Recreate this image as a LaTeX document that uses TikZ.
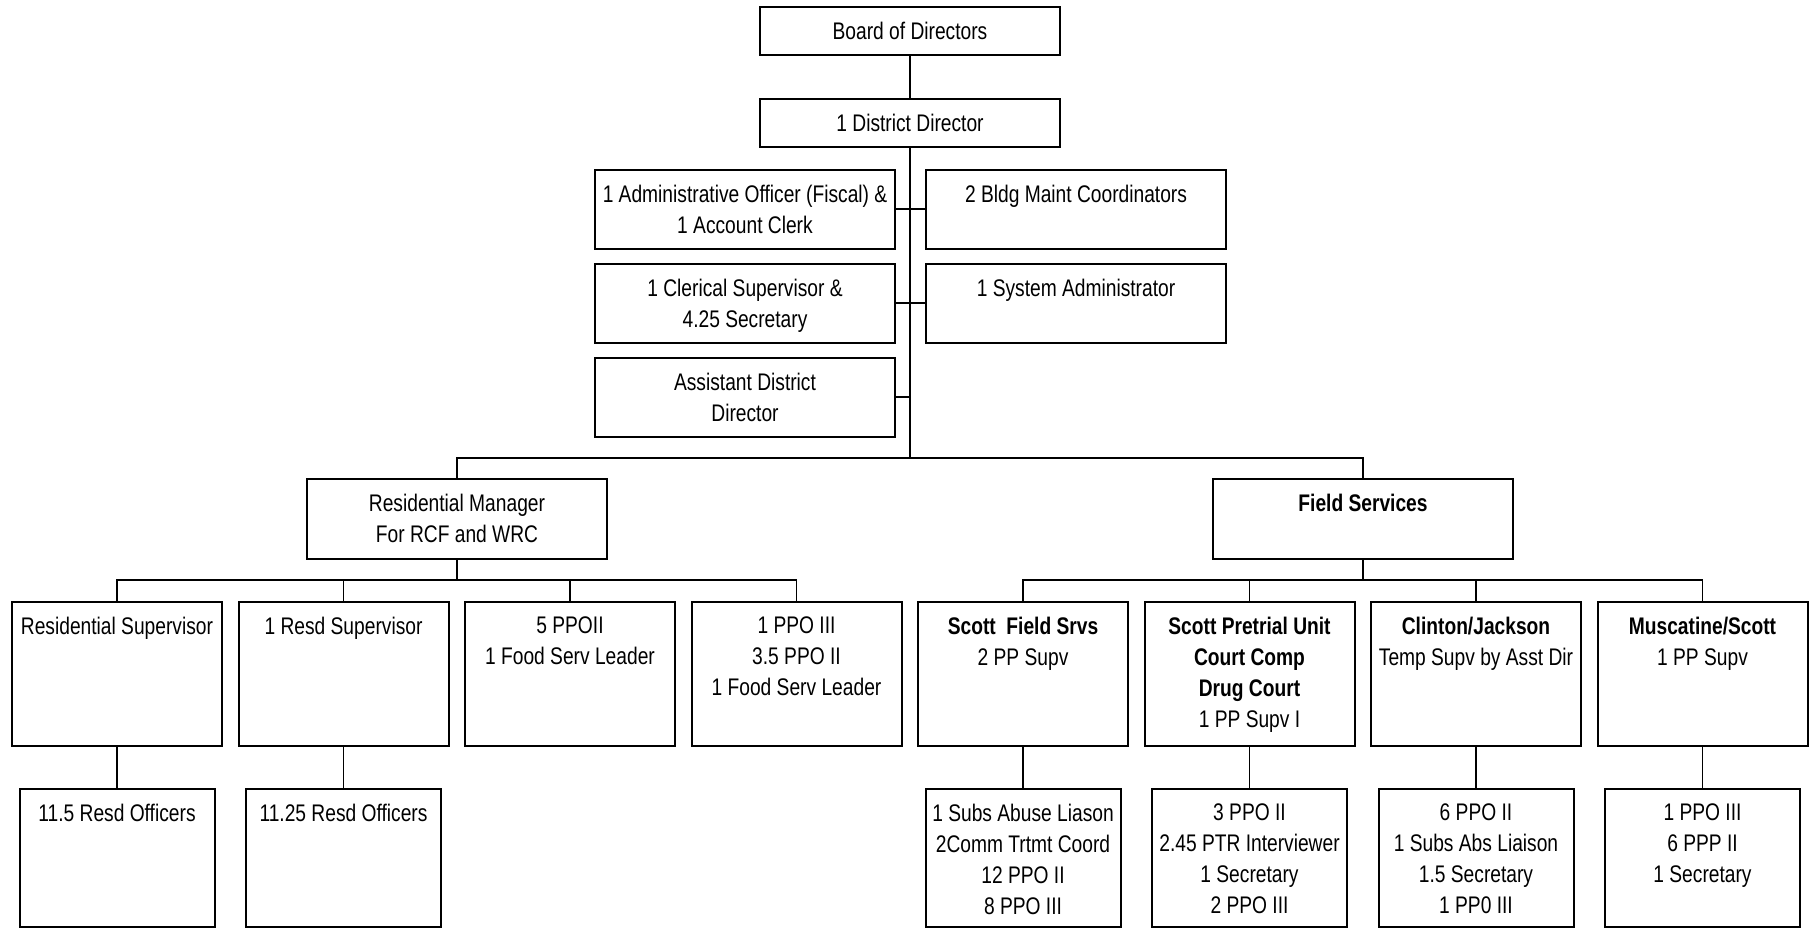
\documentclass[tikz,border=0pt]{standalone}
\usepackage{fontspec}
\setmainfont{Liberation Sans}[FakeStretch=0.8]
\begin{document}
\begin{tikzpicture}[x=1pt,y=-1pt,
  box/.style={draw=black, line width=2pt, inner sep=0pt, outer sep=0pt},
  topbox/.style={box, minimum width=300pt, minimum height=48pt},
  midbox/.style={box, minimum width=300pt, minimum height=79pt},
  mgrbox/.style={box, minimum width=300pt, minimum height=80pt},
  unitbox/.style={box, minimum width=210pt, minimum height=144pt},
  staffbox/.style={box, minimum width=195pt, minimum height=138pt},
  txt/.style={align=center, inner sep=0pt, anchor=north, font=\fontsize{24}{31}\selectfont},
  conn/.style={draw=black, line width=1.3pt}
]
\useasboundingbox (0,0) rectangle (1815,932);
\fill[white] (0,0) rectangle (1815,932);

% top
\node[topbox] (board) at (910,31.3) {};
\node[topbox] (dist) at (910,122.7) {};
\node[midbox] (admin) at (745,209) {};
\node[midbox] (bldg) at (1076,209) {};
\node[midbox] (cler) at (745,303) {};
\node[midbox] (sys) at (1076,303) {};
\node[midbox] (asst) at (745,397) {};
\node[mgrbox] (resmgr) at (457,519.2) {};
\node[mgrbox] (field) at (1363,519.2) {};

% tier 3
\node[unitbox] (t0) at (117,673.9) {};
\node[unitbox] (t1) at (343.5,673.9) {};
\node[unitbox] (t2) at (570,673.9) {};
\node[unitbox] (t3) at (796.5,673.9) {};
\node[unitbox] (t4) at (1023,673.9) {};
\node[unitbox] (t5) at (1249.5,673.9) {};
\node[unitbox] (t6) at (1476,673.9) {};
\node[unitbox] (t7) at (1702.5,673.9) {};

% tier 4
\node[staffbox] (u0) at (117,858) {};
\node[staffbox] (u1) at (343.5,858) {};
\node[staffbox] (u4) at (1023,858) {};
\node[staffbox] (u5) at (1249.5,858) {};
\node[staffbox] (u6) at (1476,858) {};
\node[staffbox] (u7) at (1702.5,858) {};

% texts
\node[txt] (boardT) at ([yshift=-15pt]board.north) {Board of Directors};
\node[txt] (distT) at ([yshift=-15pt]dist.north) {1 District Director};
\node[txt] (adminT) at ([yshift=-15pt]admin.north) {1 Administrative Officer (Fiscal) \&\\1 Account Clerk};
\node[txt] (bldgT) at ([yshift=-15pt]bldg.north) {2 Bldg Maint Coordinators};
\node[txt] (clerT) at ([yshift=-15pt]cler.north) {1 Clerical Supervisor \&\\4.25 Secretary};
\node[txt] (sysT) at ([yshift=-15pt]sys.north) {1 System Administrator};
\node[txt] (asstT) at ([yshift=-15pt]asst.north) {Assistant District\\Director};
\node[txt] (resmgrT) at ([yshift=-15pt]resmgr.north) {Residential Manager\\For RCF and WRC};
\node[txt] (fieldT) at ([yshift=-15pt]field.north) {\textbf{Field Services}};

\node[txt] (t0T) at ([yshift=-15pt]t0.north) {Residential Supervisor};
\node[txt] (t1T) at ([yshift=-15pt]t1.north) {1 Resd Supervisor};
\node[txt] (t2T) at ([yshift=-15pt]t2.north) {5 PPOII\\1 Food Serv Leader};
\node[txt] (t3T) at ([yshift=-15pt]t3.north) {1 PPO III\\3.5 PPO II\\1 Food Serv Leader};
\node[txt] (t4T) at ([yshift=-15pt]t4.north) {\textbf{Scott\ \ Field Srvs}\\2 PP Supv};
\node[txt] (t5T) at ([yshift=-15pt]t5.north) {\textbf{Scott Pretrial Unit}\\\textbf{Court Comp}\\\textbf{Drug Court}\\1 PP Supv I};
\node[txt] (t6T) at ([yshift=-15pt]t6.north) {\textbf{Clinton/Jackson}\\Temp Supv by Asst Dir};
\node[txt] (t7T) at ([yshift=-15pt]t7.north) {\textbf{Muscatine/Scott}\\1 PP Supv};

\node[txt] (u0T) at ([yshift=-15pt]u0.north) {11.5 Resd Officers};
\node[txt] (u1T) at ([yshift=-15pt]u1.north) {11.25 Resd Officers};
\node[txt] (u4T) at ([yshift=-15pt]u4.north) {1 Subs Abuse Liason\\2Comm Trtmt Coord\\12 PPO II\\8 PPO III};
\node[txt] (u5T) at ([yshift=-15pt]u5.north) {3 PPO II\\2.45 PTR Interviewer\\1 Secretary\\2 PPO III};
\node[txt] (u6T) at ([yshift=-15pt]u6.north) {6 PPO II\\1 Subs Abs Liaison\\1.5 Secretary\\1 PP0 III};
\node[txt] (u7T) at ([yshift=-15pt]u7.north) {1 PPO III\\6 PPP II\\1 Secretary};

% connectors
\coordinate (hm) at (910,458);
\coordinate (brR) at (457,580);
\coordinate (brF) at (1363,580);

\draw[conn] (board.south) -- (dist.north);
\draw[conn] (dist.south) -- (hm);
\draw[conn] (admin.east) -- (admin.east -| hm);
\draw[conn] (bldg.west) -- (bldg.west -| hm);
\draw[conn] (cler.east) -- (cler.east -| hm);
\draw[conn] (sys.west) -- (sys.west -| hm);
\draw[conn] (asst.east) -- (asst.east -| hm);
\draw[conn] (resmgr.north) -- (resmgr.north |- hm) -- (field.north |- hm) -- (field.north);

\draw[conn] (resmgr.south) -- (brR);
\draw[conn] (t0.north) -- (t0.north |- brR) -- (t3.north |- brR) -- (t3.north);
\draw[conn] (t1.north) -- (t1.north |- brR);
\draw[conn] (t2.north) -- (t2.north |- brR);

\draw[conn] (field.south) -- (brF);
\draw[conn] (t4.north) -- (t4.north |- brF) -- (t7.north |- brF) -- (t7.north);
\draw[conn] (t5.north) -- (t5.north |- brF);
\draw[conn] (t6.north) -- (t6.north |- brF);

\draw[conn] (t0.south) -- (u0.north);
\draw[conn] (t1.south) -- (u1.north);
\draw[conn] (t4.south) -- (u4.north);
\draw[conn] (t5.south) -- (u5.north);
\draw[conn] (t6.south) -- (u6.north);
\draw[conn] (t7.south) -- (u7.north);
\end{tikzpicture}
\end{document}
